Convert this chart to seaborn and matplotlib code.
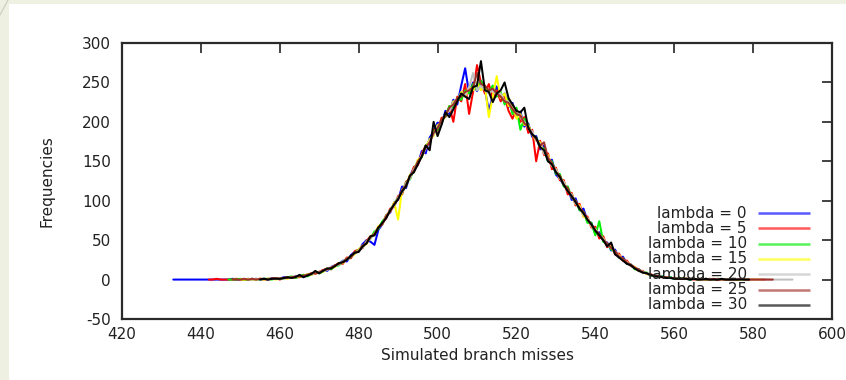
import numpy as np
import pandas as pd
import matplotlib
matplotlib.use("Agg")
import matplotlib.pyplot as plt
from matplotlib.patches import Rectangle
from matplotlib.lines import Line2D
import seaborn as sns

# Histogram counts of simulated branch misses, one series per lambda value.
lambdas = [0, 5, 10, 15, 20, 25, 30]
starts = [433, 442, 447, 450, 452, 448, 455]

counts_l0 = [0, 0, 0, 0, 0, 0, 0, 0, 0, 0, 0, 0, 0, 0, 0, 1, 0, 0, 0, 1, 0, 1,
             0, 1, 0, 2, 1, 1, 3, 2, 2, 4,
             5, 3, 7, 6, 9, 8, 12, 11, 16, 18,
             19, 24, 23, 31, 35, 36, 45, 50, 48, 44,
             63, 70, 82, 85, 98, 101, 118, 116, 132, 141,
             146, 163, 160, 180, 188, 199, 197, 214, 210, 228,
             222, 246, 268, 236, 250, 239, 252, 241, 214, 233,
             245, 228, 236, 219, 224, 208, 213, 194, 198, 181,
             182, 165, 170, 150, 152, 133, 128, 120, 117, 101,
             103, 88, 90, 74, 72, 58, 60, 49, 47, 37,
             38, 28, 29, 20, 19, 14, 13, 9, 8, 5,
             6, 3, 4, 2, 3, 1, 2, 1, 1, 0,
             1, 0, 0, 1, 0, 0, 0, 0, 0, 0, 0]

counts_l5 = [0, 0, 1, 0, 0, 0, 0, 1, 0, 0, 0, 1, 0,
             1, 0, 1, 1, 2, 0, 2, 3, 2, 3,
             3, 6, 5, 8, 7, 10, 12, 14, 13, 18,
             21, 20, 28, 27, 36, 38, 40, 49, 55, 57,
             67, 71, 78, 90, 92, 106, 108, 124, 128, 143,
             145, 160, 170, 172, 190, 189, 205, 206, 220, 200,
             232, 226, 248, 210, 238, 272, 250, 236, 248, 230,
             240, 226, 232, 214, 204, 216, 200, 206, 186, 190,
             150, 176, 158, 160, 140, 142, 126, 126, 108, 110,
             94, 96, 80, 80, 66, 67, 52, 55, 41, 44,
             32, 33, 24, 24, 17, 16, 11, 11, 7, 7,
             4, 5, 3, 3, 2, 2, 1, 1, 1, 1,
             0, 1, 0, 0, 1, 0, 0, 0, 0, 0, 1, 0, 0, 0, 0, 0, 0, 0, 0]

counts_l10 = [0, 0, 0, 1, 0, 0, 1, 0,
              0, 1, 1, 0, 2, 1, 1, 3, 4, 2,
              4, 6, 4, 7, 9, 8, 10, 14, 13, 17,
              18, 23, 26, 28, 34, 38, 41, 48, 52, 61,
              64, 74, 79, 88, 96, 104, 110, 123, 127, 140,
              150, 155, 170, 174, 188, 190, 202, 207, 220, 218,
              230, 228, 240, 236, 248, 240, 252, 244, 238, 246,
              232, 238, 222, 230, 210, 218, 190, 204, 196, 184,
              180, 168, 166, 150, 150, 134, 134, 118, 118, 104,
              100, 88, 86, 72, 72, 56, 74, 48, 46, 38,
              36, 28, 27, 20, 19, 13, 13, 9, 9, 5,
              6, 3, 4, 2, 3, 1, 2, 1, 1, 0,
              1, 0, 1, 0, 0, 0, 1, 0, 0, 0, 0, 0, 0, 0]

counts_l15 = [0, 0, 1, 0, 0,
              1, 0, 1, 1, 0, 2, 2, 1, 3, 3,
              4, 4, 7, 6, 8, 10, 10, 13, 15, 16,
              21, 21, 27, 29, 32, 38, 43, 45, 55, 57,
              68, 70, 82, 86, 98, 76, 114, 118, 133, 136,
              152, 156, 168, 178, 182, 196, 198, 210, 214, 226,
              226, 238, 232, 244, 240, 250, 240, 246, 206, 232,
              258, 230, 236, 220, 222, 204, 210, 196, 196, 184,
              176, 174, 160, 158, 144, 140, 128, 124, 112, 108,
              96, 94, 80, 78, 68, 64, 56, 52, 44, 42,
              34, 31, 25, 22, 18, 16, 11, 10, 7, 6,
              5, 4, 3, 3, 2, 2, 1, 1, 1, 1,
              1, 0, 0, 1, 0, 0, 1, 0, 0, 0, 0, 0, 0, 0, 0, 0, 0, 0]

counts_l20 = [0, 1, 0,
              0, 1, 0, 1, 1, 2, 1, 2, 3, 3,
              5, 4, 6, 7, 8, 10, 11, 12, 16, 17,
              19, 23, 25, 30, 33, 37, 41, 48, 52, 58,
              66, 71, 80, 88, 94, 104, 111, 122, 128, 140,
              148, 158, 166, 176, 184, 194, 200, 210, 214, 224,
              228, 236, 234, 244, 262, 240, 246, 240, 236, 240,
              234, 236, 226, 226, 216, 214, 206, 200, 192, 188,
              176, 172, 160, 156, 144, 140, 128, 124, 112, 108,
              96, 92, 82, 78, 68, 64, 56, 52, 44, 40,
              36, 30, 26, 22, 18, 15, 12, 10, 8, 6,
              5, 4, 3, 3, 2, 2, 1, 1, 1, 1,
              1, 1, 0, 1, 0, 0, 1, 0, 0, 0, 0, 1, 0, 0, 0, 0, 0, 0, 0, 0,
              0, 0, 0, 0, 0, 0]

counts_l25 = [0, 0, 0, 1, 0, 1, 0,
              1, 1, 0, 1, 2, 1, 2, 2, 3, 4,
              4, 5, 6, 8, 8, 9, 12, 13, 15, 18,
              20, 22, 27, 28, 34, 36, 43, 46, 54, 58,
              66, 70, 81, 86, 96, 102, 113, 120, 131, 138,
              150, 156, 168, 174, 186, 192, 202, 208, 218, 222,
              230, 232, 238, 240, 244, 262, 248, 246, 240, 242,
              236, 232, 226, 224, 216, 210, 208, 198, 194, 184,
              178, 170, 174, 154, 148, 136, 132, 120, 116, 104,
              100, 90, 86, 76, 70, 62, 58, 50, 46, 40,
              36, 29, 27, 21, 19, 15, 13, 9, 8, 6,
              5, 4, 3, 3, 2, 2, 1, 1, 1, 1,
              1, 0, 1, 0, 0, 1, 0, 0, 0, 0, 0, 0, 1, 0, 0, 0, 0, 0, 0, 0, 0]

counts_l30 = [0, 1, 0, 1, 1, 1, 2, 3, 2, 3,
              6, 3, 5, 7, 11, 8, 11, 14, 14, 17,
              21, 22, 25, 30, 34, 35, 42, 46, 55, 56,
              66, 72, 78, 88, 95, 102, 112, 118, 132, 136,
              146, 156, 170, 164, 200, 182, 196, 212, 206, 216,
              226, 236, 232, 229, 244, 246, 277, 240, 238, 225,
              236, 240, 250, 230, 222, 214, 212, 218, 192, 184,
              180, 168, 164, 150, 146, 136, 130, 120, 112, 106,
              98, 90, 84, 76, 70, 62, 56, 50, 42, 47,
              32, 28, 24, 20, 18, 14, 11, 9, 8, 6,
              4, 4, 3, 2, 2, 1, 1, 1, 1, 0,
              1, 0, 0, 1, 0, 0, 0, 1, 0, 0, 0, 0, 0, 0, 0]

series = [counts_l0, counts_l5, counts_l10, counts_l15,
          counts_l20, counts_l25, counts_l30]

labels = [f"lambda = {lam}" for lam in lambdas]
colors = ["#0000ff", "#ff0000", "#00ee00", "#ffff00",
          "#c0c0c0", "#a0302a", "#000000"]

x_ticks = list(range(420, 601, 20))
y_ticks = list(range(-50, 301, 50))

frames = []
for lab, s0, vals in zip(labels, starts, series):
    frames.append(pd.DataFrame({
        "misses": np.arange(s0, s0 + len(vals)),
        "freq": vals,
        "series": lab,
    }))
df = pd.concat(frames, ignore_index=True)

FS = 11

sns.set_theme(style="white")
plt.rcParams["font.family"] = ["DejaVu Sans"]
plt.rcParams["font.size"] = FS
plt.rcParams["axes.unicode_minus"] = False

fig = plt.figure(figsize=(8.46, 3.8), dpi=100, facecolor="#eef0e1")
fig.add_artist(Rectangle((9 / 846, 0), 1 - 9 / 846, 1 - 4 / 380,
                         transform=fig.transFigure, facecolor="white",
                         edgecolor="none", zorder=-10))
fig.add_artist(Line2D([0, 8 / 846], [1 - 15 / 380, 1],
                      transform=fig.transFigure, color="#c9cdb8", lw=0.8))

ax = fig.add_axes([122 / 846, 1 - 319 / 380, 710 / 846, 276 / 380])
ax.set_facecolor("white")

sns.lineplot(data=df, x="misses", y="freq", hue="series",
             palette=dict(zip(labels, colors)), hue_order=labels,
             estimator=None, sort=True, linewidth=1.45, legend=False, ax=ax)

ax.set_xlim(420, 600)
ax.set_ylim(-50, 300)
ax.set_xticks(x_ticks)
ax.set_yticks(y_ticks)
ax.set_xlabel("Simulated branch misses", fontsize=FS, color="#222222",
              labelpad=4)
ax.set_ylabel("Frequencies", fontsize=FS, color="#222222", labelpad=20)

ax.tick_params(direction="in", length=7, width=1.2, color="#222222",
               top=True, right=True, labelsize=FS, labelcolor="#222222")
ax.tick_params(axis="y", pad=8)
ax.tick_params(axis="x", pad=6)
for sp in ax.spines.values():
    sp.set_visible(True)
    sp.set_linewidth(1.6)
    sp.set_color("#2a2a2a")

# Key: right-justified labels with the line sample to their right.
for i, (lab, col) in enumerate(zip(labels, colors)):
    yk = 0.384 - i * 0.0555
    ax.text(0.880, yk, lab, transform=ax.transAxes, ha="right",
            va="center", fontsize=FS, color="#222222")
    ax.plot([0.896, 0.969], [yk, yk], transform=ax.transAxes,
            color=col, lw=1.8, alpha=0.65, solid_capstyle="butt")

fig.savefig("out.png", dpi=100, facecolor=fig.get_facecolor())
